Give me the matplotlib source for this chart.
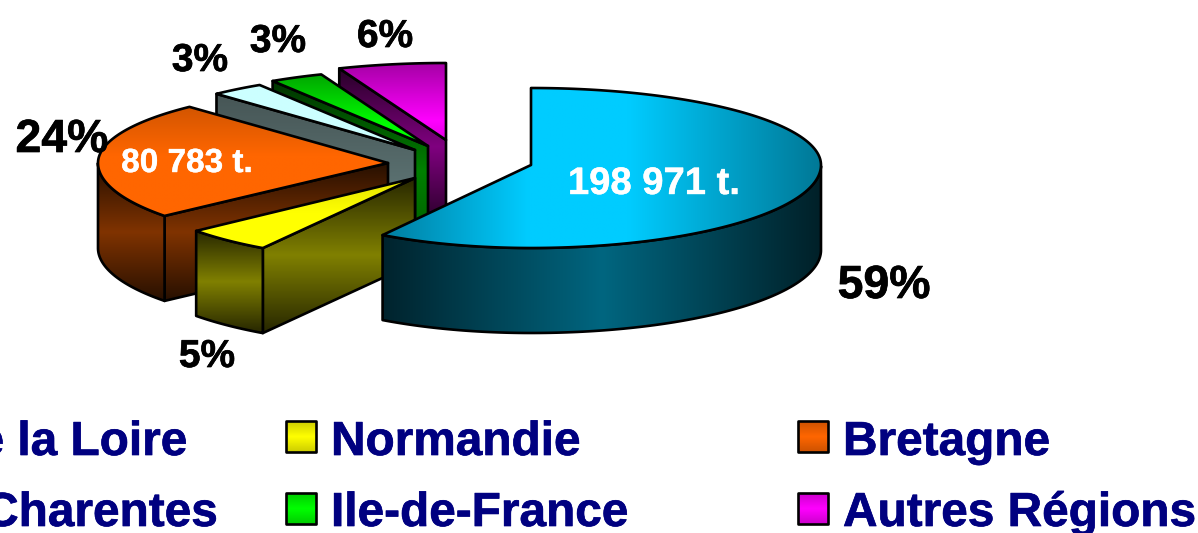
import numpy as np
import matplotlib
matplotlib.use("Agg")
import matplotlib.pyplot as plt
import matplotlib.patheffects as pe
from matplotlib.colors import LinearSegmentedColormap
from matplotlib.patches import Polygon

# ---- data ----
categories = ["Pays de la Loire", "Normandie", "Bretagne",
              "Poitou-Charentes", "Ile-de-France", "Autres Régions"]
shares = [59, 5, 24, 3, 3, 6]
share_labels = ["59%", "5%", "24%", "3%", "3%", "6%"]
tonnage_labels = ["198 971 t.", "80 783 t."]

# ---- styling / layout (pixel space) ----
W, H = 1198, 533
APEX = [(531, 165), (415, 178), (388, 163), (415, 150), (428, 146), (446, 140)]
RX_R, RY_UP, RY_DN, DEPTH = 290, 77, 83, 85
RX_L = [277, 284, 290, 290, 290, 290]
BASE = ["#00ccff", "#ffff00", "#ff6600", "#ccffff", "#00ff00", "#ff00ff"]
LW = 1.9

def cm(stops):
    return LinearSegmentedColormap.from_list("g", [(p, tuple(v / 255 for v in c)) for p, c in stops])

TOP = [
    None,
    cm([(0, (225, 225, 0)), (.5, (255, 255, 0)), (1, (255, 255, 0))]),
    cm([(0, (210, 85, 0)), (.45, (255, 102, 0)), (1, (255, 102, 0))]),
    cm([(0, (204, 255, 255)), (1, (204, 255, 255))]),
    cm([(0, (0, 165, 0)), (.7, (0, 255, 0)), (1, (0, 255, 0))]),
    cm([(0, (165, 0, 165)), (.75, (255, 0, 255)), (1, (225, 0, 225))]),
]
TOP_BLUE = cm([(0, (0, 125, 160)), (.33, (0, 204, 255)), (.56, (0, 204, 255)), (1, (0, 120, 150))])
WALL_BLUE = cm([(0, (0, 35, 45)), (.5, (0, 102, 128)), (1, (0, 32, 40))])

def dark(c):
    return cm([(0, tuple(.3 * v for v in c)), (.5, c), (1, tuple(.3 * v for v in c))])

FACE = [
    None,
    dark((128, 128, 0)),
    dark((128, 51, 0)),
    cm([(0, (70, 85, 85)), (1, (102, 128, 128))]),
    cm([(0, (0, 50, 0)), (.6, (0, 128, 0)), (1, (0, 100, 0))]),
    dark((128, 0, 128)),
]

fig = plt.figure(figsize=(W / 100, H / 100), dpi=100, facecolor="white")
ax = fig.add_axes([0, 0, 1, 1])
ax.set_xlim(0, W)
ax.set_ylim(H, 0)
ax.axis("off")
ax.set_autoscale_on(False)
z = [1]

def shade(xy, cmap, horizontal=False):
    """Fill a polygon with a gradient clipped to it, and outline it in black."""
    xy = np.asarray(xy)
    x0, x1 = xy[:, 0].min(), xy[:, 0].max()
    y0, y1 = xy[:, 1].min(), xy[:, 1].max()
    g = np.linspace(0, 1, 256)
    g = g[None, :] if horizontal else g[:, None]
    im = ax.imshow(g, cmap=cmap, extent=(x0, x1, y1, y0), origin="upper",
                   aspect="auto", zorder=z[0], interpolation="bilinear", vmin=0, vmax=1)
    z[0] += 1
    poly = Polygon(xy, closed=True, fc="none", ec="black", lw=LW, zorder=z[0], joinstyle="round")
    ax.add_patch(poly)
    im.set_clip_path(poly)
    z[0] += 1

def rim(i, th):
    th = np.radians(th)
    ax_, ay_ = APEX[i]
    c, s = np.cos(th), np.sin(th)
    return np.column_stack([ax_ + c * np.where(c >= 0, RX_R, RX_L[i]),
                            ay_ - s * np.where(s >= 0, RY_UP, RY_DN)])

# slice angles from the shares, clockwise from 12 o'clock
cum = np.concatenate([[0], np.cumsum(shares)]) / np.sum(shares) * 360
start = 90 - cum[:-1]
end = 90 - cum[1:]

# draw back to front
for i in [5, 4, 3, 2, 1, 0]:
    th = np.linspace(start[i], end[i], 200)
    arc = rim(i, th)
    apex = np.array(APEX[i], float)
    down = np.array([0, DEPTH])
    # radial interior face
    if i > 0:
        edge = rim(i, np.array([start[i]]))[0]
        shade([edge, apex, apex + down, edge + down], FACE[i])
    # outer wall (visible only below the ellipse's mid line)
    wth = th[np.sin(np.radians(th)) <= 0]
    if i == 2:
        wth = np.linspace(start[i], -180, 100)
    if len(wth) > 1:
        warc = rim(i, wth)
        wall = np.vstack([warc, (warc + down)[::-1]])
        if i == 0:
            shade(wall, WALL_BLUE, horizontal=True)
        else:
            shade(wall, FACE[i])
    # top surface
    top = np.vstack([[apex], arc])
    if i == 0:
        shade(top, TOP_BLUE, horizontal=True)
    else:
        shade(top, TOP[i])

# labels
FONT = "Liberation Sans"

def label(x, y, s, fs, color, ha="center", stroke=0.5):
    t = ax.text(x, y, s, ha=ha, va="baseline", fontsize=fs, fontweight="bold",
                family=FONT, color=color, zorder=500)
    t.set_path_effects([pe.withStroke(linewidth=stroke, foreground=color)])

label_pos = [(884, 298, 33.4), (207, 367, 28), (62, 152, 33.4), (200, 71, 28), (278, 52, 28), (385, 47, 28)]
for lab, (x, y, fs) in zip(share_labels, label_pos):
    label(x, y, lab, fs, "black")
for lab, (x, y, fs) in zip(tonnage_labels, [(654, 194, 27.5), (187, 172, 24)]):
    label(x, y, lab, fs, "white", stroke=0.3)

# legend (three columns, two rows)
NAVY = "#000080"
LEG_FS = 34.4
for name, x, y in zip(categories[0:1] + categories[3:4], [187, 218], [455, 526]):
    label(x, y, name, LEG_FS, NAVY, ha="right")
legend_slots = [(1, 286, 421, 331, 455), (2, 798, 421, 843, 455),
                (4, 286, 493, 331, 526), (5, 798, 493, 843, 526)]
for idx, bx, by, tx, ty in legend_slots:
    c = tuple(int(BASE[idx][k:k + 2], 16) for k in (1, 3, 5))
    g = cm([(0, tuple(.8 * v for v in c)), (.5, c), (1, tuple(.8 * v for v in c))])
    shade([(bx, by), (bx + 30, by), (bx + 30, by + 31), (bx, by + 31)], g)
    label(tx, ty, categories[idx], LEG_FS, NAVY, ha="left")

fig.savefig("out.png", dpi=100, facecolor="white")
